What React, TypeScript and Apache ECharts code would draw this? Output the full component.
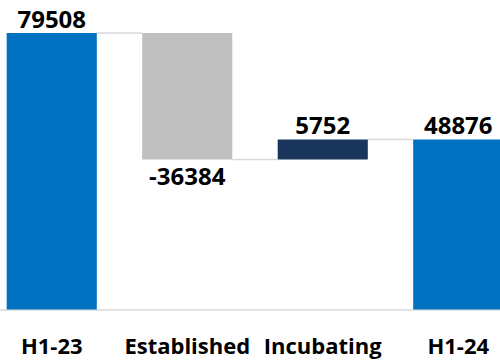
import React, { useEffect, useRef } from "react";
import * as echarts from "echarts";

// Waterfall: opening half-year, segment changes, closing half-year
const categories = ["H1-23", "Established", "Incubating", "H1-24"];
const values = [79508, -36384, 5752, 48876];
const isTotal = [true, false, false, true];
const barColors = ["#0070C0", "#BFBFBF", "#1B365D", "#0070C0"];

const FONT = "'Open Sans', 'Noto Sans', sans-serif";

// the plot runs a little past both page edges, so the chart box is wider than the page
const CHART_LEFT = -16;
const CHART_WIDTH = 542;

export default function App() {
  const ref = useRef<HTMLDivElement>(null);

  useEffect(() => {
    if (!ref.current) return;
    const chart = echarts.init(ref.current, undefined, { renderer: "svg" });

    // invisible base + visible step height for each bar
    const bases: number[] = [];
    const heights: number[] = [];
    const levels: number[] = []; // running total after each bar
    let running = 0;
    values.forEach((v, i) => {
      if (isTotal[i]) {
        bases.push(0);
        heights.push(v);
        running = v;
      } else {
        const next = running + v;
        bases.push(Math.min(running, next));
        heights.push(Math.abs(v));
        running = next;
      }
      levels.push(running);
    });

    const barPct = 0.665;

    chart.setOption({
      animation: false,
      grid: { left: 0, right: 0, top: 33, bottom: 53.5, containLabel: false },
      xAxis: {
        type: "category",
        data: categories,
        axisLine: { show: true, lineStyle: { color: "#D9D9D9", width: 1.5 } },
        axisTick: { show: false },
        axisLabel: {
          margin: 24,
          fontSize: 22,
          fontWeight: "bold",
          fontFamily: FONT,
          color: "#000000",
          interval: 0,
        },
      },
      yAxis: {
        type: "value",
        min: 0,
        max: 79508,
        show: false,
        splitLine: { show: false },
      },
      series: [
        {
          type: "bar",
          stack: "wf",
          data: bases,
          barWidth: `${barPct * 100}%`,
          itemStyle: { color: "transparent" },
          silent: true,
        },
        {
          type: "bar",
          stack: "wf",
          barWidth: `${barPct * 100}%`,
          data: heights.map((h, i) => ({
            value: h,
            itemStyle: { color: barColors[i] },
            label: {
              show: true,
              position: values[i] < 0 ? "bottom" : "top",
              distance: values[i] < 0 ? 4 : 3,
              formatter: () => String(values[i]),
              fontSize: 24,
              fontWeight: "bold",
              fontFamily: FONT,
              color: "#000000",
            },
          })),
        },
        {
          // connector lines between neighbouring bars
          type: "custom",
          silent: true,
          data: levels.slice(0, -1).map((lv, i) => [i, lv]),
          renderItem: (params: any, api: any) => {
            const i = api.value(0);
            const lv = api.value(1);
            const p1 = api.coord([i, lv]);
            const p2 = api.coord([i + 1, lv]);
            const band = api.size([1, 0])[0];
            const half = (band * barPct) / 2;
            return {
              type: "line",
              shape: { x1: p1[0] + half, y1: p1[1], x2: p2[0] - half, y2: p1[1] },
              style: { stroke: "#D9D9D9", lineWidth: 1.5 },
            };
          },
        },
      ],
    });

    return () => chart.dispose();
  }, []);

  return (
    <div
      style={{
        position: "fixed",
        left: 0,
        top: 0,
        width: 500,
        height: 363,
        overflow: "hidden",
        background: "#ffffff",
      }}
    >
      <div
        ref={ref}
        style={{ position: "absolute", left: CHART_LEFT, top: 0, width: CHART_WIDTH, height: 363 }}
      />
    </div>
  );
}
